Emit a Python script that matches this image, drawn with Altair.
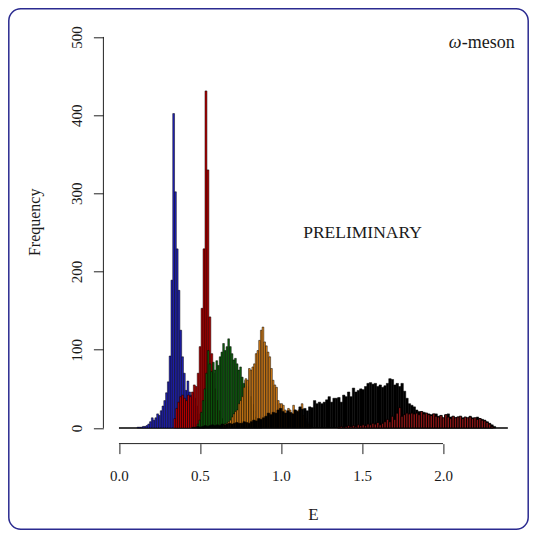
import altair as alt
import pandas as pd

# ---------------- data ----------------
BREAKS_RANGE = [0.0, 2.4]
X_TICKS = [0.0, 0.5, 1.0, 1.5, 2.0]
Y_TICKS = [0, 100, 200, 300, 400, 500]

BLUE_START, BLUE_WIDTH = 0.112, 0.011
BLUE_COUNTS = [1, 1, 1, 2, 2, 3, 5, 8, 13, 10, 13, 18, 16, 22, 28, 35, 45, 59, 92, 189,
               402, 302, 229, 176, 125, 91, 70, 48, 60, 46, 42, 45, 38, 28, 18, 10, 5, 2]

RED_START, RED_WIDTH = 0.339, 0.012
RED_COUNTS = [12, 25, 33, 40, 42, 38, 35, 42, 40, 46, 55, 53, 70, 104, 153, 229,
              431, 330, 142, 95, 70, 50, 35, 22, 12, 6, 3]

GREEN_START, GREEN_WIDTH = 0.4827, 0.0105
GREEN_COUNTS = [5, 10, 20, 35, 50, 70, 99, 82, 72, 84, 74, 86, 80, 91, 97, 108, 99, 104,
                114, 104, 95, 87, 89, 82, 74, 78, 65, 57, 61, 53, 48, 40, 30, 22, 14, 8, 4, 2]

ORANGE_START, ORANGE_WIDTH = 0.621, 0.0105
ORANGE_COUNTS = [2, 3, 4, 5, 6, 8, 10, 14, 18, 21, 23, 31, 35, 40, 52, 63, 61, 76, 74, 78,
                 82, 95, 99, 112, 125, 129, 110, 105, 97, 91, 76, 61, 55, 52, 35, 31, 31, 29,
                 23, 19, 25, 23, 19, 29, 23, 21, 23, 19, 31, 16, 12, 8, 5, 3]

BLACK_START, BLACK_WIDTH = 0.45, 0.015
BLACK_COUNTS = [1, 1, 2, 1, 2, 3, 2, 3, 4, 3,
                4, 3, 5, 4, 5, 6, 5, 6, 7, 6,
                6, 8, 7, 6, 8, 10, 9, 12, 11, 13,
                15, 19, 17, 20, 19, 23, 25, 21, 19, 22,
                20, 18, 23, 21, 27, 24, 25, 22, 27, 26,
                35, 31, 33, 31, 33, 36, 40, 33, 38, 38,
                39, 33, 42, 40, 46, 40, 51, 46, 48, 50,
                49, 53, 57, 58, 56, 57, 53, 55, 52, 54,
                57, 63, 62, 55, 57, 53, 57, 47, 38, 31,
                29, 27, 23, 21, 20, 20, 18, 18, 17, 16,
                18, 15, 14, 12, 16, 18, 14, 12, 13, 14,
                14, 13, 12, 12, 15, 13, 12, 14, 12, 11,
                10, 8, 6, 4, 2]

TAIL_START, TAIL_WIDTH = 1.35, 0.015
TAIL_COUNTS = [1, 2, 1, 2, 3, 2, 3, 2, 4, 3,
               4, 3, 5, 4, 6, 5, 7, 4, 6, 8,
               11, 8, 15, 11, 19, 26, 15, 17, 19, 18,
               19, 18, 19, 17, 21, 18, 19, 17, 16, 18,
               15, 14, 16, 13, 17, 14, 12, 15, 13, 14,
               15, 12, 14, 13, 14, 12, 13, 11, 12, 10,
               9, 7, 5, 2]

SERIES_NAMES = ["s1", "s2", "s3", "s4", "s5"]
SERIES_COLORS = ["#2222c0", "#b80000", "#0e640e", "#e8891a", "#000000"]
TAIL_COLOR = "#8a1515"

# ---------------- build tables ----------------
series = [
    (SERIES_NAMES[0], BLUE_START, BLUE_WIDTH, BLUE_COUNTS),
    (SERIES_NAMES[1], RED_START, RED_WIDTH, RED_COUNTS),
    (SERIES_NAMES[2], GREEN_START, GREEN_WIDTH, GREEN_COUNTS),
    (SERIES_NAMES[3], ORANGE_START, ORANGE_WIDTH, ORANGE_COUNTS),
    (SERIES_NAMES[4], BLACK_START, BLACK_WIDTH, BLACK_COUNTS),
]
rows = []
for name, start, w, counts in series:
    for i, c in enumerate(counts):
        x0 = start + i * w
        rows.append({"series": name, "x0": x0, "x1": x0 + w, "y0": 0, "y1": c})
bars_df = pd.DataFrame(rows)

tail_rows = []
for i, c in enumerate(TAIL_COUNTS):
    x0 = TAIL_START + i * TAIL_WIDTH
    tail_rows.append({"x0": x0, "x1": x0 + TAIL_WIDTH, "y0": 0, "y1": c})
tail_df = pd.DataFrame(tail_rows)

PW, PH = 420, 422.3
FONT = "Liberation Serif"
TXT = "#1a1a1a"

xs = alt.Scale(domain=[-0.096, 2.496], nice=False, zero=False)
ys = alt.Scale(domain=[-20, 520], nice=False, zero=False)

x_axis = alt.Axis(values=X_TICKS, format=".1f", domain=False, grid=False, title=None,
                  tickSize=10, tickColor="#222", labelFont=FONT, labelFontSize=15,
                  labelColor=TXT, labelBaseline="alphabetic", labelPadding=27)
y_axis = alt.Axis(values=Y_TICKS, format="d", domain=False, grid=False, title=None,
                  tickSize=10, tickColor="#222", labelFont=FONT, labelFontSize=15,
                  labelColor=TXT, labelAngle=270, labelAlign="center",
                  labelBaseline="alphabetic", labelPadding=12)

one = pd.DataFrame({"a": [0]})

frame = alt.Chart(one).mark_rect(fillOpacity=0, stroke="#2b2b90", strokeWidth=1.5,
                                  cornerRadius=12).encode(
    x=alt.value(-94.6), x2=alt.value(424.8), y=alt.value(-12.5), y2=alt.value(507.9))

base_df = pd.DataFrame({"x0": [BREAKS_RANGE[0]], "x1": [BREAKS_RANGE[1]], "y": [0]})
baseline = alt.Chart(base_df).mark_rule(color="black", strokeWidth=1.5).encode(
    x=alt.X("x0:Q", scale=xs, axis=x_axis), x2="x1",
    y=alt.Y("y:Q", scale=ys, axis=y_axis))

bars = alt.Chart(bars_df).mark_rect(stroke="black", strokeWidth=0.5).encode(
    x=alt.X("x0:Q", scale=xs, axis=x_axis), x2="x1",
    y=alt.Y("y1:Q", scale=ys, axis=y_axis), y2="y0",
    color=alt.Color("series:N", scale=alt.Scale(domain=SERIES_NAMES, range=SERIES_COLORS),
                    legend=None))

tail = alt.Chart(tail_df).mark_rect(stroke="black", strokeWidth=0.9, color=TAIL_COLOR).encode(
    x=alt.X("x0:Q", scale=xs), x2="x1",
    y=alt.Y("y1:Q", scale=ys), y2="y0")

xline_df = pd.DataFrame({"a": [X_TICKS[0]], "b": [X_TICKS[-1]]})
xline = alt.Chart(xline_df).mark_rule(color="#222", strokeWidth=1).encode(
    x=alt.X("a:Q", scale=xs), x2="b", y=alt.value(PH))
yline_df = pd.DataFrame({"a": [Y_TICKS[0]], "b": [Y_TICKS[-1]]})
yline = alt.Chart(yline_df).mark_rule(color="#222", strokeWidth=1).encode(
    y=alt.Y("a:Q", scale=ys), y2="b", x=alt.value(0))

prelim = alt.Chart(one).mark_text(text="PRELIMINARY", font=FONT, fontSize=17.5, color=TXT,
                                  align="center", baseline="middle").encode(
    x=alt.datum(1.503, scale=xs), y=alt.datum(249, scale=ys))

omega = alt.Chart(one).mark_text(text="ω", font=FONT, fontSize=18, fontStyle="italic",
                                 color=TXT, align="right", baseline="alphabetic").encode(
    x=alt.value(358.0), y=alt.value(27))
meson = alt.Chart(one).mark_text(text="-meson", font=FONT, fontSize=18, color=TXT,
                                 align="left", baseline="alphabetic").encode(
    x=alt.value(358.3), y=alt.value(27))

xtitle = alt.Chart(one).mark_text(text="E", font=FONT, fontSize=17, color=TXT,
                                  align="center", baseline="alphabetic").encode(
    x=alt.value(PW / 2), y=alt.value(498.5))
ytitle = alt.Chart(one).mark_text(text="Frequency", font=FONT, fontSize=16, color=TXT,
                                  align="center", baseline="alphabetic", angle=270).encode(
    x=alt.value(-63.5), y=alt.value(201))

chart = alt.layer(frame, baseline, bars, tail, xline, yline, prelim, omega, meson,
                  xtitle, ytitle).properties(
    width=PW, height=PH,
    padding={"left": 95.4, "top": 13.3, "right": 5.6, "bottom": 86.4},
    autosize=alt.AutoSizeParams(type="none"),
    background="white",
).configure_view(strokeWidth=0)

chart.save("out.html", embed_options={"renderer": "svg", "actions": False})
